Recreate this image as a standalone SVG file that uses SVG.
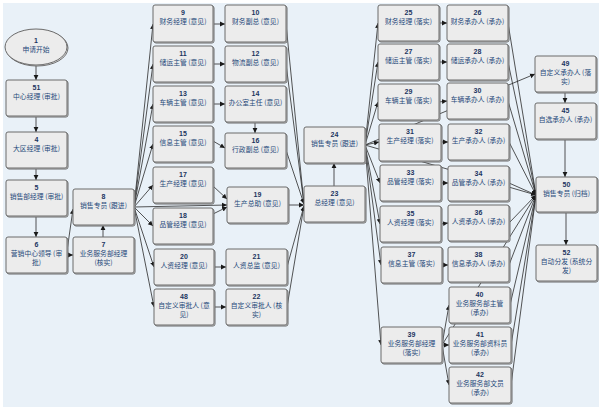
<svg xmlns="http://www.w3.org/2000/svg" width="599" height="407" viewBox="0 0 599 407">
<style>
.n rect,.n ellipse{fill:#ececec;stroke:#6b6b6b;stroke-width:1}
.sh{fill:#a9b0b6;stroke:none}
.num{font-family:"Liberation Sans","Noto Sans CJK SC",sans-serif;font-size:7px;font-weight:bold;fill:#1b355f;text-anchor:middle}
.lb{font-family:"Noto Sans CJK SC",sans-serif;font-size:6.8px;fill:#26497a;text-anchor:middle}
.e line{stroke:#2a2a2a;stroke-width:0.8;marker-end:url(#a)}
</style>
<defs>
<marker id="a" markerWidth="6" markerHeight="6" refX="5" refY="3" orient="auto" markerUnits="userSpaceOnUse"><path d="M0,0.6 L5,3 L0,5.4 z" fill="#1a1a1a"/></marker>
</defs>
<rect x="0" y="0" width="599" height="407" fill="#ffffff"/>
<rect x="3" y="3" width="596" height="404" fill="#e9f1f8"/>
<g class="e" id="edges">
<line x1="36" y1="65" x2="36" y2="80"/>
<line x1="36" y1="116" x2="36" y2="132"/>
<line x1="36" y1="168" x2="36" y2="180"/>
<line x1="36" y1="216" x2="36" y2="237"/>
<line x1="67" y1="255" x2="73" y2="255"/>
<line x1="67" y1="251" x2="73" y2="209"/>
<line x1="103" y1="237" x2="103" y2="225"/>
<line x1="134" y1="207" x2="153" y2="24"/>
<line x1="134" y1="207" x2="153" y2="64"/>
<line x1="134" y1="207" x2="153" y2="104"/>
<line x1="134" y1="207" x2="153" y2="144"/>
<line x1="134" y1="207" x2="153" y2="185"/>
<line x1="134" y1="207" x2="227" y2="205"/>
<line x1="134" y1="207" x2="153" y2="226"/>
<line x1="134" y1="207" x2="154" y2="267"/>
<line x1="134" y1="207" x2="154" y2="307"/>
<line x1="213" y1="24" x2="225" y2="24"/>
<line x1="213" y1="64" x2="225" y2="64"/>
<line x1="213" y1="104" x2="225" y2="104"/>
<line x1="255" y1="122" x2="255" y2="133"/>
<line x1="213" y1="141" x2="225" y2="148"/>
<line x1="213" y1="186" x2="227" y2="199"/>
<line x1="213" y1="214" x2="227" y2="207"/>
<line x1="214" y1="267" x2="226" y2="267"/>
<line x1="214" y1="307" x2="226" y2="307"/>
<line x1="286" y1="24" x2="304" y2="204"/>
<line x1="286" y1="64" x2="304" y2="204"/>
<line x1="286" y1="150" x2="304" y2="204"/>
<line x1="288" y1="205" x2="304" y2="205"/>
<line x1="287" y1="267" x2="304" y2="206"/>
<line x1="287" y1="307" x2="304" y2="206"/>
<line x1="334" y1="186" x2="334" y2="163"/>
<line x1="365" y1="145" x2="378" y2="23"/>
<line x1="365" y1="145" x2="378" y2="62"/>
<line x1="365" y1="145" x2="378" y2="102"/>
<line x1="365" y1="145" x2="379" y2="142"/>
<line x1="365" y1="145" x2="380" y2="183"/>
<line x1="365" y1="145" x2="380" y2="224"/>
<line x1="365" y1="145" x2="381" y2="265"/>
<line x1="365" y1="145" x2="381" y2="345"/>
<line x1="365" y1="145" x2="535" y2="74"/>
<line x1="365" y1="145" x2="536" y2="195"/>
<line x1="439" y1="23" x2="447" y2="23"/>
<line x1="439" y1="62" x2="447" y2="62"/>
<line x1="439" y1="102" x2="447" y2="101"/>
<line x1="441" y1="142" x2="448" y2="142"/>
<line x1="441" y1="183" x2="448" y2="183"/>
<line x1="441" y1="224" x2="448" y2="223"/>
<line x1="442" y1="265" x2="448" y2="265"/>
<line x1="442" y1="345" x2="449" y2="305"/>
<line x1="442" y1="345" x2="449" y2="345"/>
<line x1="442" y1="345" x2="449" y2="385"/>
<line x1="442" y1="345" x2="536" y2="195"/>
<line x1="508" y1="23" x2="536" y2="195"/>
<line x1="508" y1="62" x2="536" y2="195"/>
<line x1="508" y1="101" x2="536" y2="195"/>
<line x1="509" y1="142" x2="536" y2="195"/>
<line x1="509" y1="183" x2="536" y2="195"/>
<line x1="509" y1="223" x2="536" y2="195"/>
<line x1="509" y1="265" x2="536" y2="195"/>
<line x1="510" y1="305" x2="536" y2="195"/>
<line x1="511" y1="345" x2="536" y2="195"/>
<line x1="511" y1="385" x2="536" y2="195"/>
<line x1="565" y1="92" x2="565" y2="103"/>
<line x1="565" y1="139" x2="565" y2="177"/>
<line x1="566" y1="212" x2="566" y2="245"/>
</g>
<g class="n" id="n1"><ellipse class="sh" cx="37" cy="48" rx="31" ry="18"/><ellipse cx="36" cy="47" rx="31" ry="18"/><text class="num" x="36" y="43">1</text><text class="lb" x="36" y="52">申请开始</text></g>
<g class="n" id="n51"><rect class="sh" x="7" y="81" width="61" height="36" rx="2"/><rect x="6" y="80" width="61" height="36" rx="2"/><text class="num" x="36.5" y="89.5">51</text><text class="lb" x="36.5" y="98.5">中心经理 (审批)</text></g>
<g class="n" id="n4"><rect class="sh" x="7" y="133" width="61" height="36" rx="2"/><rect x="6" y="132" width="61" height="36" rx="2"/><text class="num" x="36.5" y="141.5">4</text><text class="lb" x="36.5" y="150.5">大区经理 (审批)</text></g>
<g class="n" id="n5"><rect class="sh" x="7" y="181" width="61" height="36" rx="2"/><rect x="6" y="180" width="61" height="36" rx="2"/><text class="num" x="36.5" y="189.5">5</text><text class="lb" x="36.5" y="198.5">销售部经理 (审批)</text></g>
<g class="n" id="n6"><rect class="sh" x="7" y="238" width="61" height="36" rx="2"/><rect x="6" y="237" width="61" height="36" rx="2"/><text class="num" x="36.5" y="246.5">6</text><text class="lb" x="36.5" y="255.5">营销中心领导 (审</text><text class="lb" x="36.5" y="264.5">批)</text></g>
<g class="n" id="n8"><rect class="sh" x="74" y="190" width="61" height="36" rx="2"/><rect x="73" y="189" width="61" height="36" rx="2"/><text class="num" x="103.5" y="198.5">8</text><text class="lb" x="103.5" y="207.5">销售专员 (跟进)</text></g>
<g class="n" id="n7"><rect class="sh" x="74" y="238" width="61" height="36" rx="2"/><rect x="73" y="237" width="61" height="36" rx="2"/><text class="num" x="103.5" y="246.5">7</text><text class="lb" x="103.5" y="255.5">业务服务部经理</text><text class="lb" x="103.5" y="264.5">(核实)</text></g>
<g class="n" id="n9"><rect class="sh" x="154" y="6" width="60" height="37" rx="2"/><rect x="153" y="5" width="60" height="37" rx="2"/><text class="num" x="183" y="14.5">9</text><text class="lb" x="183" y="23.5">财务经理 (意见)</text></g>
<g class="n" id="n10"><rect class="sh" x="226" y="6" width="61" height="37" rx="2"/><rect x="225" y="5" width="61" height="37" rx="2"/><text class="num" x="255.5" y="14.5">10</text><text class="lb" x="255.5" y="23.5">财务副总 (意见)</text></g>
<g class="n" id="n11"><rect class="sh" x="154" y="47" width="60" height="36" rx="2"/><rect x="153" y="46" width="60" height="36" rx="2"/><text class="num" x="183" y="55.5">11</text><text class="lb" x="183" y="64.5">储运主管 (意见)</text></g>
<g class="n" id="n12"><rect class="sh" x="226" y="47" width="61" height="36" rx="2"/><rect x="225" y="46" width="61" height="36" rx="2"/><text class="num" x="255.5" y="55.5">12</text><text class="lb" x="255.5" y="64.5">物流副总 (意见)</text></g>
<g class="n" id="n13"><rect class="sh" x="154" y="87" width="60" height="36" rx="2"/><rect x="153" y="86" width="60" height="36" rx="2"/><text class="num" x="183" y="95.5">13</text><text class="lb" x="183" y="104.5">车辆主管 (意见)</text></g>
<g class="n" id="n14"><rect class="sh" x="226" y="87" width="61" height="36" rx="2"/><rect x="225" y="86" width="61" height="36" rx="2"/><text class="num" x="255.5" y="95.5">14</text><text class="lb" x="255.5" y="104.5">办公室主任 (意见)</text></g>
<g class="n" id="n15"><rect class="sh" x="154" y="127" width="60" height="36" rx="2"/><rect x="153" y="126" width="60" height="36" rx="2"/><text class="num" x="183" y="135.5">15</text><text class="lb" x="183" y="144.5">信息主管 (意见)</text></g>
<g class="n" id="n16"><rect class="sh" x="226" y="134" width="61" height="35" rx="2"/><rect x="225" y="133" width="61" height="35" rx="2"/><text class="num" x="255.5" y="142.5">16</text><text class="lb" x="255.5" y="151.5">行政副总 (意见)</text></g>
<g class="n" id="n17"><rect class="sh" x="154" y="168" width="60" height="36" rx="2"/><rect x="153" y="167" width="60" height="36" rx="2"/><text class="num" x="183" y="176.5">17</text><text class="lb" x="183" y="185.5">生产经理 (意见)</text></g>
<g class="n" id="n19"><rect class="sh" x="228" y="188" width="61" height="36" rx="2"/><rect x="227" y="187" width="61" height="36" rx="2"/><text class="num" x="257.5" y="196.5">19</text><text class="lb" x="257.5" y="205.5">生产总助 (意见)</text></g>
<g class="n" id="n18"><rect class="sh" x="154" y="209" width="60" height="36" rx="2"/><rect x="153" y="208" width="60" height="36" rx="2"/><text class="num" x="183" y="217.5">18</text><text class="lb" x="183" y="226.5">品管经理 (意见)</text></g>
<g class="n" id="n20"><rect class="sh" x="155" y="250" width="60" height="36" rx="2"/><rect x="154" y="249" width="60" height="36" rx="2"/><text class="num" x="184" y="258.5">20</text><text class="lb" x="184" y="267.5">人资经理 (意见)</text></g>
<g class="n" id="n21"><rect class="sh" x="227" y="250" width="61" height="36" rx="2"/><rect x="226" y="249" width="61" height="36" rx="2"/><text class="num" x="256.5" y="258.5">21</text><text class="lb" x="256.5" y="267.5">人资总监 (意见)</text></g>
<g class="n" id="n48"><rect class="sh" x="155" y="290" width="60" height="36" rx="2"/><rect x="154" y="289" width="60" height="36" rx="2"/><text class="num" x="184" y="298.5">48</text><text class="lb" x="184" y="307.5">自定义审批人 (意</text><text class="lb" x="184" y="316.5">见)</text></g>
<g class="n" id="n22"><rect class="sh" x="227" y="290" width="61" height="36" rx="2"/><rect x="226" y="289" width="61" height="36" rx="2"/><text class="num" x="256.5" y="298.5">22</text><text class="lb" x="256.5" y="307.5">自定义审批人 (核</text><text class="lb" x="256.5" y="316.5">实)</text></g>
<g class="n" id="n24"><rect class="sh" x="305" y="128" width="61" height="36" rx="2"/><rect x="304" y="127" width="61" height="36" rx="2"/><text class="num" x="334.5" y="136.5">24</text><text class="lb" x="334.5" y="145.5">销售专员 (跟进)</text></g>
<g class="n" id="n23"><rect class="sh" x="305" y="187" width="61" height="36" rx="2"/><rect x="304" y="186" width="61" height="36" rx="2"/><text class="num" x="334.5" y="195.5">23</text><text class="lb" x="334.5" y="204.5">总经理 (意见)</text></g>
<g class="n" id="n25"><rect class="sh" x="379" y="6" width="61" height="36" rx="2"/><rect x="378" y="5" width="61" height="36" rx="2"/><text class="num" x="408.5" y="14.5">25</text><text class="lb" x="408.5" y="23.5">财务经理 (落实)</text></g>
<g class="n" id="n26"><rect class="sh" x="448" y="6" width="61" height="36" rx="2"/><rect x="447" y="5" width="61" height="36" rx="2"/><text class="num" x="477.5" y="14.5">26</text><text class="lb" x="477.5" y="23.5">财务承办人 (承办)</text></g>
<g class="n" id="n27"><rect class="sh" x="379" y="45" width="61" height="36" rx="2"/><rect x="378" y="44" width="61" height="36" rx="2"/><text class="num" x="408.5" y="53.5">27</text><text class="lb" x="408.5" y="62.5">储运主管 (落实)</text></g>
<g class="n" id="n28"><rect class="sh" x="448" y="45" width="61" height="36" rx="2"/><rect x="447" y="44" width="61" height="36" rx="2"/><text class="num" x="477.5" y="53.5">28</text><text class="lb" x="477.5" y="62.5">储运承办人 (承办)</text></g>
<g class="n" id="n29"><rect class="sh" x="379" y="85" width="61" height="36" rx="2"/><rect x="378" y="84" width="61" height="36" rx="2"/><text class="num" x="408.5" y="93.5">29</text><text class="lb" x="408.5" y="102.5">车辆主管 (落实)</text></g>
<g class="n" id="n30"><rect class="sh" x="448" y="84" width="61" height="36" rx="2"/><rect x="447" y="83" width="61" height="36" rx="2"/><text class="num" x="477.5" y="92.5">30</text><text class="lb" x="477.5" y="101.5">车辆承办人 (承办)</text></g>
<g class="n" id="n31"><rect class="sh" x="380" y="125" width="62" height="37" rx="2"/><rect x="379" y="124" width="62" height="37" rx="2"/><text class="num" x="410" y="133.5">31</text><text class="lb" x="410" y="142.5">生产经理 (落实)</text></g>
<g class="n" id="n32"><rect class="sh" x="449" y="125" width="61" height="36" rx="2"/><rect x="448" y="124" width="61" height="36" rx="2"/><text class="num" x="478.5" y="133.5">32</text><text class="lb" x="478.5" y="142.5">生产承办人 (承办)</text></g>
<g class="n" id="n33"><rect class="sh" x="381" y="166" width="61" height="36" rx="2"/><rect x="380" y="165" width="61" height="36" rx="2"/><text class="num" x="410.5" y="174.5">33</text><text class="lb" x="410.5" y="183.5">品管经理 (落实)</text></g>
<g class="n" id="n34"><rect class="sh" x="449" y="167" width="61" height="35" rx="2"/><rect x="448" y="166" width="61" height="35" rx="2"/><text class="num" x="478.5" y="175.5">34</text><text class="lb" x="478.5" y="184.5">品管承办人 (承办)</text></g>
<g class="n" id="n35"><rect class="sh" x="381" y="207" width="61" height="36" rx="2"/><rect x="380" y="206" width="61" height="36" rx="2"/><text class="num" x="410.5" y="215.5">35</text><text class="lb" x="410.5" y="224.5">人资经理 (落实)</text></g>
<g class="n" id="n36"><rect class="sh" x="449" y="206" width="61" height="36" rx="2"/><rect x="448" y="205" width="61" height="36" rx="2"/><text class="num" x="478.5" y="214.5">36</text><text class="lb" x="478.5" y="223.5">人资承办人 (承办)</text></g>
<g class="n" id="n37"><rect class="sh" x="382" y="248" width="61" height="36" rx="2"/><rect x="381" y="247" width="61" height="36" rx="2"/><text class="num" x="411.5" y="256.5">37</text><text class="lb" x="411.5" y="265.5">信息主管 (落实)</text></g>
<g class="n" id="n38"><rect class="sh" x="449" y="248" width="61" height="35" rx="2"/><rect x="448" y="247" width="61" height="35" rx="2"/><text class="num" x="478.5" y="256.5">38</text><text class="lb" x="478.5" y="265.5">信息承办人 (承办)</text></g>
<g class="n" id="n39"><rect class="sh" x="382" y="328" width="61" height="36" rx="2"/><rect x="381" y="327" width="61" height="36" rx="2"/><text class="num" x="411.5" y="336.5">39</text><text class="lb" x="411.5" y="345.5">业务服务部经理</text><text class="lb" x="411.5" y="354.5">(落实)</text></g>
<g class="n" id="n40"><rect class="sh" x="450" y="288" width="61" height="36" rx="2"/><rect x="449" y="287" width="61" height="36" rx="2"/><text class="num" x="479.5" y="296.5">40</text><text class="lb" x="479.5" y="305.5">业务服务部主管</text><text class="lb" x="479.5" y="314.5">(承办)</text></g>
<g class="n" id="n41"><rect class="sh" x="450" y="328" width="62" height="36" rx="2"/><rect x="449" y="327" width="62" height="36" rx="2"/><text class="num" x="480" y="336.5">41</text><text class="lb" x="480" y="345.5">业务服务部资料员</text><text class="lb" x="480" y="354.5">(承办)</text></g>
<g class="n" id="n42"><rect class="sh" x="450" y="368" width="62" height="36" rx="2"/><rect x="449" y="367" width="62" height="36" rx="2"/><text class="num" x="480" y="376.5">42</text><text class="lb" x="480" y="385.5">业务服务部文员</text><text class="lb" x="480" y="394.5">(承办)</text></g>
<g class="n" id="n49"><rect class="sh" x="536" y="57" width="61" height="36" rx="2"/><rect x="535" y="56" width="61" height="36" rx="2"/><text class="num" x="565.5" y="65.5">49</text><text class="lb" x="565.5" y="74.5">自定义承办人 (落</text><text class="lb" x="565.5" y="83.5">实)</text></g>
<g class="n" id="n45"><rect class="sh" x="536" y="104" width="61" height="36" rx="2"/><rect x="535" y="103" width="61" height="36" rx="2"/><text class="num" x="565.5" y="112.5">45</text><text class="lb" x="565.5" y="121.5">自选承办人 (承办)</text></g>
<g class="n" id="n50"><rect class="sh" x="537" y="178" width="61" height="35" rx="2"/><rect x="536" y="177" width="61" height="35" rx="2"/><text class="num" x="566.5" y="186.5">50</text><text class="lb" x="566.5" y="195.5">销售专员 (归档)</text></g>
<g class="n" id="n52"><rect class="sh" x="537" y="246" width="61" height="36" rx="2"/><rect x="536" y="245" width="61" height="36" rx="2"/><text class="num" x="566.5" y="254.5">52</text><text class="lb" x="566.5" y="263.5">自动分发 (系统分</text><text class="lb" x="566.5" y="272.5">发)</text></g>
</svg>
